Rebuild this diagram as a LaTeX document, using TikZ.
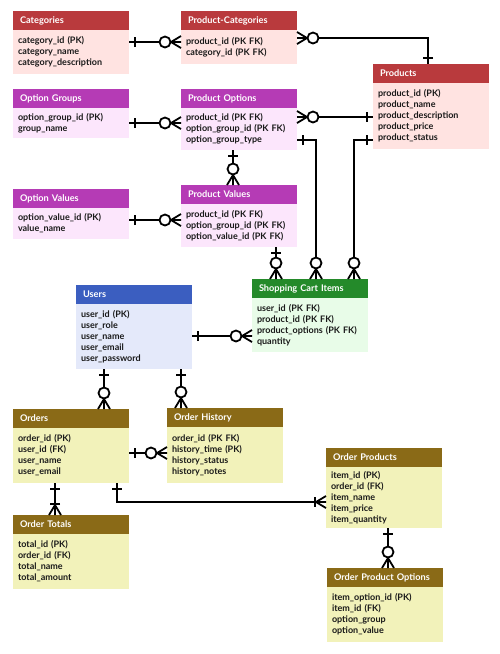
\documentclass[tikz,border=0pt]{standalone}
\usepackage{fontspec}
\setmainfont{Lato}
\usetikzlibrary{calc}
\definecolor{redH}{HTML}{B93A3D}
\definecolor{redB}{HTML}{FFE3E1}
\definecolor{purH}{HTML}{B53BB5}
\definecolor{purB}{HTML}{FCE6FC}
\definecolor{bluH}{HTML}{3B5EC0}
\definecolor{bluB}{HTML}{E4E9FA}
\definecolor{grnH}{HTML}{248A2A}
\definecolor{grnB}{HTML}{E8FCE8}
\definecolor{brnH}{HTML}{8A6A17}
\definecolor{brnB}{HTML}{F2F2BA}
\tikzset{
  hdr/.style={anchor=north west, minimum width=116, minimum height=19, text width=102, inner xsep=7, inner ysep=0, outer sep=0, align=left, text=white, font=\bfseries\fontsize{9.2}{10}\selectfont},
  bdy/.style={anchor=north west, minimum width=116, text width=106, inner xsep=5, inner ysep=0, outer sep=0, align=left, text=black!90, font=\bfseries\fontsize{9}{11}\selectfont},
  erl/.style={line width=1.8, black},
}
\newcommand\ertable[8]{%
  \node[hdr, fill=#4] (#1H) at (#2,#3) {#6};
  \node[bdy, fill=#5, minimum height=#8] (#1B) at (#1H.south west) {#7};
}
\newcommand\markone[2]{\begin{scope}[shift={(#1)},rotate=#2]\draw[erl] (-6,-5)--(-6,5);\end{scope}}
\newcommand\markzmany[2]{\begin{scope}[shift={(#1)},rotate=#2]\draw[erl,fill=white] (-16,0) circle (5.5);\draw[erl] (-10,0)--(0,6) (-10,0)--(0,-6) (-10,0)--(0,0);\end{scope}}
\newcommand\markomany[2]{\begin{scope}[shift={(#1)},rotate=#2]\draw[erl] (-11,-5)--(-11,5);\draw[erl] (-10,0)--(0,6) (-10,0)--(0,-6) (-10,0)--(0,0);\end{scope}}
\begin{document}
\begin{tikzpicture}[x=1pt,y=-1pt]
\fill[white] (0,0) rectangle (500,654);
\useasboundingbox (0,0) rectangle (500,654);
% tables
\ertable{cat}{13}{11}{redH}{redB}{Categories}{category\_id (PK)\\category\_name\\category\_description}{44}
\ertable{pc}{181}{11}{redH}{redB}{Product-Categories}{product\_id (PK FK)\\category\_id (PK FK)}{34}
\ertable{prod}{373}{64}{redH}{redB}{Products}{product\_id (PK)\\product\_name\\product\_description\\product\_price\\product\_status}{66}
\ertable{og}{13}{89}{purH}{purB}{Option Groups}{option\_group\_id (PK)\\group\_name}{30}
\ertable{po}{181}{89}{purH}{purB}{Product Options}{product\_id (PK FK)\\option\_group\_id (PK FK)\\option\_group\_type}{42}
\ertable{ov}{13}{189}{purH}{purB}{Option Values}{option\_value\_id (PK)\\value\_name}{31}
\ertable{pv}{181}{185}{purH}{purB}{Product Values}{product\_id (PK FK)\\option\_group\_id (PK FK)\\option\_value\_id (PK FK)}{43}
\ertable{users}{76}{285}{bluH}{bluB}{Users}{user\_id (PK)\\user\_role\\user\_name\\user\_email\\user\_password}{65}
\ertable{sci}{252}{279}{grnH}{grnB}{Shopping Cart Items}{user\_id (PK FK)\\product\_id (PK FK)\\product\_options (PK FK)\\quantity}{54}
\ertable{ord}{13}{409}{brnH}{brnB}{Orders}{order\_id (PK)\\user\_id (FK)\\user\_name\\user\_email}{55}
\ertable{oh}{167}{408}{brnH}{brnB}{Order History}{order\_id (PK FK)\\history\_time (PK)\\history\_status\\history\_notes}{56}
\ertable{ot}{13}{515}{brnH}{brnB}{Order Totals}{total\_id (PK)\\order\_id (FK)\\total\_name\\total\_amount}{55}
\ertable{op}{326}{448}{brnH}{brnB}{Order Products}{item\_id (PK)\\order\_id (FK)\\item\_name\\item\_price\\item\_quantity}{61}
\ertable{opo}{327}{568}{brnH}{brnB}{Order Product Options}{item\_option\_id (PK)\\item\_id (FK)\\option\_group\\option\_value}{55}
% connector end points
\coordinate (c1a) at ($(catB.north east)+(0,12)$);  \coordinate (c1b) at (c1a -| pcB.west);
\coordinate (c2a) at ($(pcB.north east)+(0,8)$);    \coordinate (c2b) at ($(prodH.north west)+(55,0)$);
\coordinate (c3a) at ($(ogB.north east)+(0,15)$);   \coordinate (c3b) at (c3a -| poB.west);
\coordinate (c4a) at ($(poB.north east)+(0,9)$);    \coordinate (c4b) at (c4a -| prodB.west);
\coordinate (c5a) at ($(poB.south west)+(52,0)$);   \coordinate (c5b) at (c5a |- pvH.north);
\coordinate (c6a) at ($(ovB.north east)+(0,12)$);   \coordinate (c6b) at (c6a -| pvB.west);
\coordinate (c7a) at ($(pvB.south west)+(95,0)$);   \coordinate (c7b) at (c7a |- sciH.north);
\coordinate (c8a) at ($(poB.north east)+(0,32)$);   \coordinate (c8b) at ($(sciH.north west)+(64,0)$);
\coordinate (c9a) at ($(prodB.north west)+(0,57)$); \coordinate (c9b) at ($(sciH.north west)+(102,0)$);
\coordinate (c10a) at ($(usersB.north east)+(0,32)$); \coordinate (c10b) at (c10a -| sciB.west);
\coordinate (c11a) at ($(usersB.south west)+(28,0)$); \coordinate (c11b) at (c11a |- ordH.north);
\coordinate (c12a) at ($(usersB.south west)+(105,0)$); \coordinate (c12b) at (c12a |- ohH.north);
\coordinate (c13a) at ($(ordB.north east)+(0,25)$); \coordinate (c13b) at (c13a -| ohB.west);
\coordinate (c14a) at ($(ordB.south west)+(42,0)$); \coordinate (c14b) at (c14a |- otH.north);
\coordinate (c15a) at ($(ordB.south west)+(104,0)$); \coordinate (c15b) at ($(opB.north west)+(0,35)$);
\coordinate (c16a) at ($(opB.south west)+(62,0)$); \coordinate (c16b) at (c16a |- opoH.north);
% lines
\draw[erl] (c1a) -- (c1b);
\draw[erl] (c2a) -| (c2b);
\draw[erl] (c3a) -- (c3b);
\draw[erl] (c4a) -- (c4b);
\draw[erl] (c5a) -- (c5b);
\draw[erl] (c6a) -- (c6b);
\draw[erl] (c7a) -- (c7b);
\draw[erl] (c8a) -| (c8b);
\draw[erl] (c9a) -| (c9b);
\draw[erl] (c10a) -- (c10b);
\draw[erl] (c11a) -- (c11b);
\draw[erl] (c12a) -- (c12b);
\draw[erl] (c13a) -- (c13b);
\draw[erl] (c14a) -- (c14b);
\draw[erl] (c15a) |- (c15b);
\draw[erl] (c16a) -- (c16b);
% marks
\markone{c1a}{180} \markzmany{c1b}{0}
\markzmany{c2a}{180} \markone{c2b}{-90}
\markone{c3a}{180} \markzmany{c3b}{0}
\markzmany{c4a}{180} \markone{c4b}{0}
\markone{c5a}{90} \markzmany{c5b}{-90}
\markone{c6a}{180} \markzmany{c6b}{0}
\markone{c7a}{90} \markzmany{c7b}{-90}
\markone{c8a}{180} \markzmany{c8b}{-90}
\markone{c9a}{0} \markzmany{c9b}{-90}
\markone{c10a}{180} \markzmany{c10b}{0}
\markone{c11a}{90} \markzmany{c11b}{-90}
\markone{c12a}{90} \markzmany{c12b}{-90}
\markone{c13a}{180} \markzmany{c13b}{0}
\markone{c14a}{90} \markomany{c14b}{-90}
\markone{c15a}{90} \markomany{c15b}{0}
\markone{c16a}{90} \markzmany{c16b}{-90}
\end{tikzpicture}
\end{document}
